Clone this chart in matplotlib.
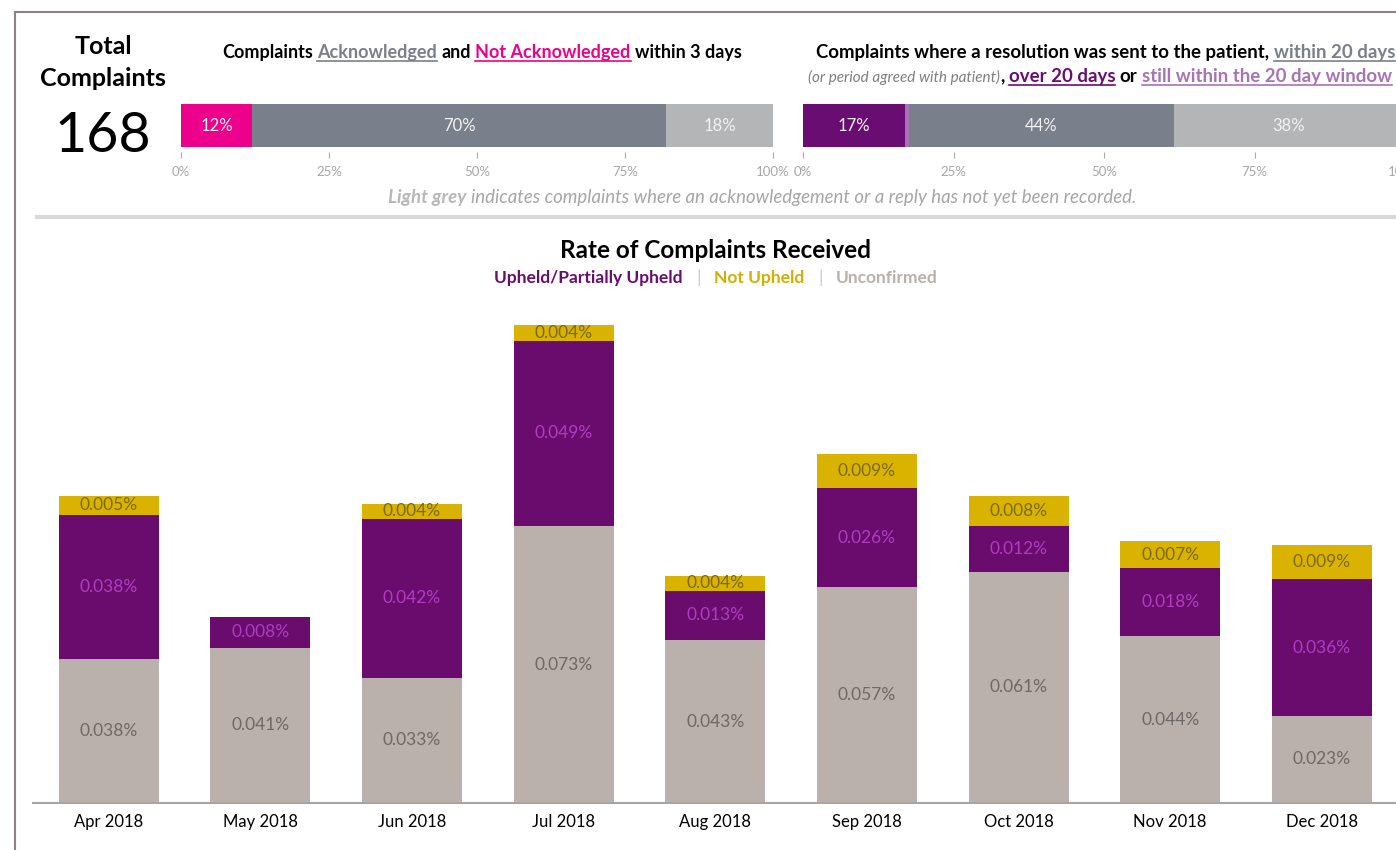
import matplotlib.pyplot as plt
from matplotlib.lines import Line2D

plt.rcParams['font.family'] = ['Lato', 'DejaVu Sans']

# data
total_complaints = 168

ack_labels = ["Not Acknowledged", "Acknowledged", "Not recorded"]
ack_pct = [12, 70, 18]
ack_colors = ["#EC008C", "#7A7F8C", "#B3B5B6"]

res_labels = ["Over 20 days", "Still within window", "Within 20 days", "Not recorded"]
res_pct = [17, 0.6, 44, 38]
res_colors = ["#6A0D72", "#A873B5", "#7A7F8C", "#B3B5B6"]

months = ["Apr 2018", "May 2018", "Jun 2018", "Jul 2018", "Aug 2018",
          "Sep 2018", "Oct 2018", "Nov 2018", "Dec 2018"]
unconfirmed = [0.038, 0.041, 0.033, 0.073, 0.043, 0.057, 0.061, 0.044, 0.023]
upheld = [0.038, 0.008, 0.042, 0.049, 0.013, 0.026, 0.012, 0.018, 0.036]
not_upheld = [0.005, 0.0, 0.004, 0.004, 0.004, 0.009, 0.008, 0.007, 0.009]

W, H = 1396, 850
fig = plt.figure(figsize=(W / 100, H / 100), dpi=100)
renderer = fig.canvas.get_renderer()


def fx(x):
    return x / W


def fy(y):
    return 1 - y / H


def px_axes(left, top, right, bottom):
    return fig.add_axes([fx(left), fy(bottom), (right - left) / W, (bottom - top) / H])


# width of a single space for a given style
def space_width(size, weight, style):
    a = fig.text(0, 0, "a a", fontsize=size, fontweight=weight, fontstyle=style)
    b = fig.text(0, 0, "aa", fontsize=size, fontweight=weight, fontstyle=style)
    w = a.get_window_extent(renderer).width - b.get_window_extent(renderer).width
    a.remove()
    b.remove()
    return w


# draws a line of text made of differently styled pieces
# pieces: (text, color, size, weight, style, underline)
def rich_line(pieces, x, y, align="left"):
    items = []
    total = 0
    for s, color, size, weight, style, under in pieces:
        lead = len(s) - len(s.lstrip(" "))
        trail = len(s) - len(s.rstrip(" "))
        sw = space_width(size, weight, style)
        t = fig.text(0, fy(y), s.strip(), color=color, fontsize=size,
                     fontweight=weight, fontstyle=style, va="baseline")
        w = t.get_window_extent(renderer).width
        items.append((t, lead * sw, w, trail * sw, color, under))
        total += lead * sw + w + trail * sw
    cur = x - total / 2 if align == "center" else x
    for t, lead, w, trail, color, under in items:
        cur += lead
        t.set_x(fx(cur))
        if under:
            fig.add_artist(Line2D([fx(cur), fx(cur + w)], [fy(y + 3), fy(y + 3)],
                                  color=color, lw=1.2))
        cur += w + trail


# frame and separator
fig.add_artist(Line2D([fx(15), fx(15)], [fy(12), fy(850)], color="#8C8282", lw=1.5))
fig.add_artist(Line2D([fx(15), fx(1396)], [fy(12), fy(12)], color="#8C8282", lw=1.5))
fig.add_artist(Line2D([fx(37), fx(1396)], [fy(217), fy(217)], color="#D9D9D9", lw=3))

# total complaints
fig.text(fx(103), fy(46), "Total", ha="center", va="center", fontsize=18, fontweight="bold")
fig.text(fx(103), fy(78), "Complaints", ha="center", va="center", fontsize=18, fontweight="bold")
fig.text(fx(103), fy(136), str(total_complaints), ha="center", va="center", fontsize=40)

# titles of top bars
rich_line([("Complaints ", "black", 13, "bold", "normal", False),
           ("Acknowledged", "#7A7F8C", 13, "bold", "normal", True),
           (" and ", "black", 13, "bold", "normal", False),
           ("Not Acknowledged", "#EC008C", 13, "bold", "normal", True),
           (" within 3 days", "black", 13, "bold", "normal", False)],
          482, 58, align="center")
rich_line([("Complaints where a resolution was sent to the patient, ", "black", 13.4, "bold", "normal", False),
           ("within 20 days", "#7A7F8C", 13.4, "bold", "normal", True)],
          816, 58)
rich_line([("(or period agreed with patient)", "#7F7F7F", 11, "normal", "italic", False),
           (", ", "black", 13.4, "bold", "normal", False),
           ("over 20 days", "#6A0D72", 13.4, "bold", "normal", True),
           (" or ", "black", 13.4, "bold", "normal", False),
           ("still within the 20 day window", "#A873B5", 13.4, "bold", "normal", True)],
          808, 82)


def stacked_pct_bar(ax, pcts, colors):
    left = 0
    for p, c in zip(pcts, colors):
        ax.barh(0.55, p, height=0.9, left=left, color=c)
        if p >= 3:
            ax.text(left + p / 2, 0.55, f"{p:.0f}%", ha="center", va="center",
                    color="#F2F2F2", fontsize=12)
        left += p
    ax.set_xlim(0, 100)
    ax.set_ylim(0, 1)
    ax.set_xticks([0, 25, 50, 75, 100])
    ax.set_xticklabels(["0%", "25%", "50%", "75%", "100%"])
    ax.tick_params(axis="x", length=4, color="#A6A6A6", labelcolor="#A6A6A6",
                   labelsize=9.5, pad=6)
    ax.set_yticks([])
    for s in ax.spines.values():
        s.set_visible(False)
    ax.patch.set_alpha(0)


ax1 = px_axes(181, 104, 773, 152)
stacked_pct_bar(ax1, ack_pct, ack_colors)
ax2 = px_axes(803, 104, 1405, 152)
stacked_pct_bar(ax2, res_pct, res_colors)

rich_line([("Light grey", "#B8B8B8", 13.4, "bold", "italic", False),
           (" indicates complaints where an acknowledgement or a reply has not yet been recorded.",
            "#A6A6A6", 13.4, "normal", "italic", False)],
          762, 203, align="center")

# main chart title and legend
fig.text(fx(716), fy(258), "Rate of Complaints Received", ha="center", va="baseline",
         fontsize=17.5, fontweight="bold")
rich_line([("Upheld/Partially Upheld", "#6A0D72", 12.5, "bold", "normal", False),
           ("   |   ", "#C8C8C8", 12.5, "normal", "normal", False),
           ("Not Upheld", "#D4AF00", 12.5, "bold", "normal", False),
           ("   |   ", "#C8C8C8", 12.5, "normal", "normal", False),
           ("Unconfirmed", "#BAB0AC", 12.5, "bold", "normal", False)],
          716, 283, align="center")

# stacked rate bars
ax = px_axes(33, 300, 1397.6, 803)
x = list(range(len(months)))
bw = 0.66
ax.bar(x, unconfirmed, width=bw, color="#BAB0AC")
bottom2 = [u for u in unconfirmed]
ax.bar(x, upheld, width=bw, bottom=bottom2, color="#690C6E")
bottom3 = [u + p for u, p in zip(unconfirmed, upheld)]
ax.bar(x, not_upheld, width=bw, bottom=bottom3, color="#D9B300")

for i in x:
    ax.text(i, unconfirmed[i] / 2, f"{unconfirmed[i]:.3f}%", ha="center", va="center",
            color="#6E6866", fontsize=12.5)
    ax.text(i, bottom2[i] + upheld[i] / 2, f"{upheld[i]:.3f}%", ha="center", va="center",
            color="#B03CC0", fontsize=12.5)
    if not_upheld[i] > 0:
        ax.text(i, bottom3[i] + not_upheld[i] / 2, f"{not_upheld[i]:.3f}%", ha="center",
                va="center", color="#7D6A00", fontsize=12.5)

ax.set_xlim(-0.5, 8.5)
ax.set_ylim(0, 503 / 3790)
ax.set_xticks(x)
ax.set_xticklabels(months, fontsize=12)
ax.tick_params(axis="x", length=0, pad=8)
ax.set_yticks([])
for s in ["top", "right", "left"]:
    ax.spines[s].set_visible(False)
ax.spines["bottom"].set_color("#A6A6A6")
ax.spines["bottom"].set_linewidth(1.5)
ax.patch.set_alpha(0)

fig.savefig("out.png", dpi=100)
